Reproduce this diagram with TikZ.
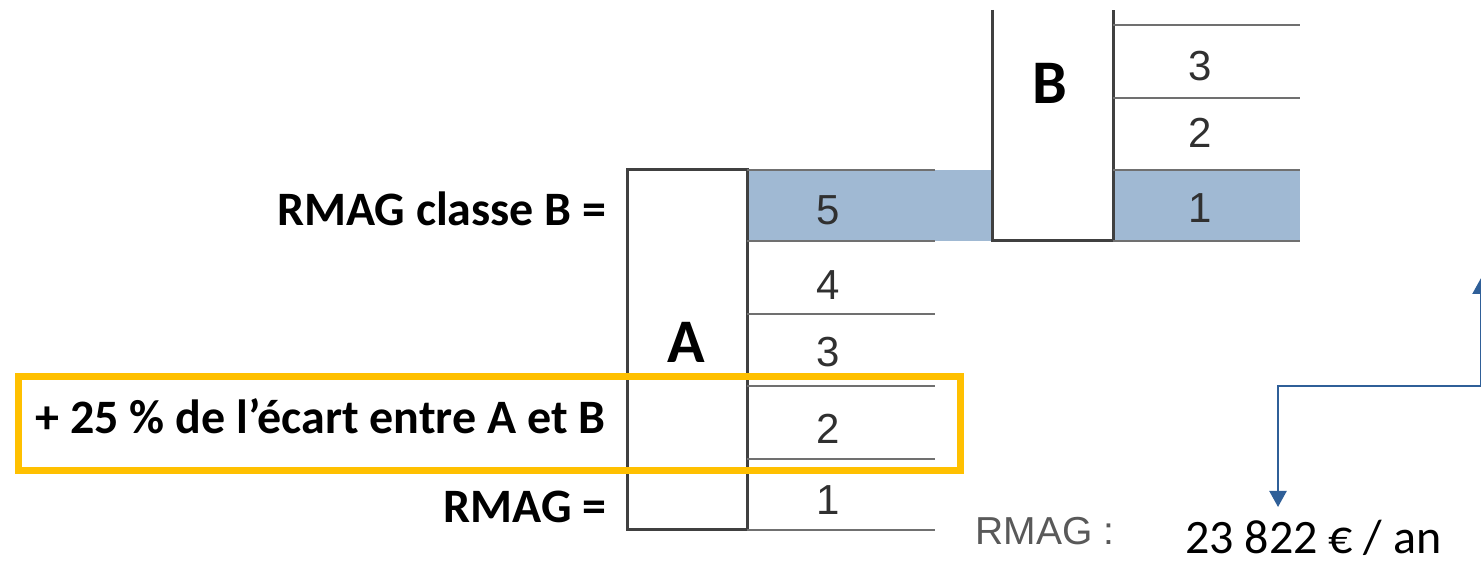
\documentclass[tikz,border=0pt]{standalone}
\usepackage{fontspec}
\setmainfont{Carlito}
\newfontfamily\arialfont{Liberation Sans}
\usetikzlibrary{arrows.meta}
\definecolor{bandblue}{HTML}{A0B9D3}
\definecolor{flowblue}{HTML}{2F5F98}
\definecolor{boxgold}{HTML}{FFC000}
\definecolor{rowgray}{HTML}{707070}
\definecolor{boxgray}{HTML}{404040}
\definecolor{digitgray}{HTML}{303030}
\definecolor{labelgray}{HTML}{595959}
\tikzset{
  classbox/.style={draw=boxgray, line width=1.5pt, fill=white},
  rowline/.style={draw=rowgray, line width=1pt},
  echelon/.style={font=\arialfont\fontsize{21}{24}\selectfont, text=digitgray, inner sep=0pt},
  caption/.style={font=\bfseries\fontsize{24}{28}\selectfont, inner sep=0pt},
  classname/.style={font=\bfseries\fontsize{31}{36}\selectfont, inner sep=0pt},
  flow/.style={draw=flowblue, line width=1.2pt, -{Triangle[width=8.5pt,length=8pt]}},
}
\begin{document}
\begin{tikzpicture}[x=0.5pt, y=-0.5pt]
\useasboundingbox (0,0) rectangle (1481,565);
% bandeau RMAG classe B
\fill[bandblue] (747,170) rectangle (1300,241);
% classe A
\draw[classbox] (627,170) rectangle (747,530);
\foreach \y in {170,241,314,386,459,530}
  \draw[rowline] (747,\y) -- (935,\y);
\foreach \n/\y in {5/210,4/285,3/352,2/429,1/500}
  \node[echelon] (a\n) at (828,\y) {\n};
\node[classname, anchor=base] (classA) at (686,363) {A};
% classe B
\filldraw[classbox] (992,10) -- (992,241) -- (1113,241) -- (1113,10);
\foreach \y in {25,98,170,241}
  \draw[rowline] (1113,\y) -- (1300,\y);
\foreach \n/\y in {3/66,2/133,1/208}
  \node[echelon] (b\n) at (1200,\y) {\n};
\node[classname, anchor=base] (classB) at (1050,104) {B};
% legendes
\node[caption, anchor=base east] (rmagB) at (607,226) {RMAG classe B =};
\node[caption, anchor=base east] (ecart) at (606,434) {+ 25 \% de l’écart entre A et B};
\node[caption, anchor=base east] (rmagA) at (607,523) {RMAG =};
\draw[boxgold, line width=3.5pt] (18,377) rectangle (960,471);
\node[font=\arialfont\fontsize{19.5}{22}\selectfont, text=labelgray, anchor=base west, inner sep=0pt] (rmaglab) at (975,545) {RMAG :};
\node[font=\fontsize{24}{28}\selectfont, anchor=base west, inner sep=0pt] (rmagval) at (1185,553) {23 822 € / an};
% fleches
\coordinate (knee) at (1481,386);
\coordinate (uptip) at (1481,278);
\coordinate (elbow) at (1278,386);
\coordinate (downtip) at (1278,507);
\draw[flow] (knee) -- (uptip);
\draw[flow] (knee) -- (elbow) -- (downtip);
\end{tikzpicture}
\end{document}
